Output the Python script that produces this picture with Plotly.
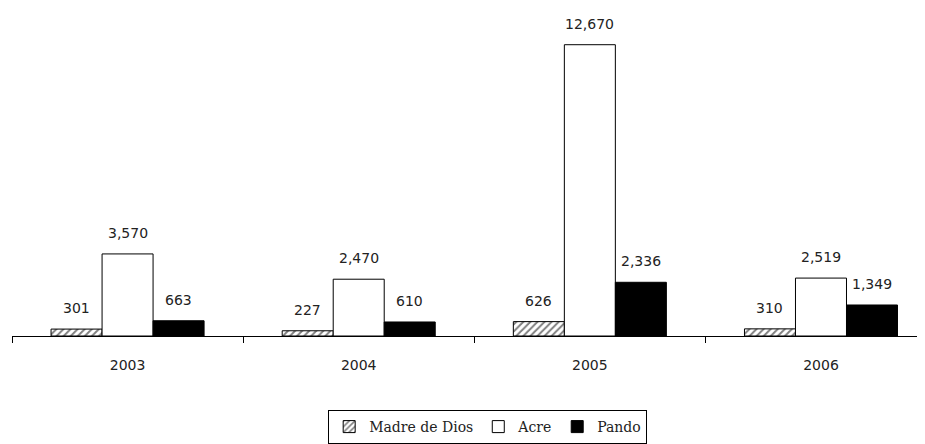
import plotly.graph_objects as go

years = ["2003", "2004", "2005", "2006"]
madre_de_dios = [301, 227, 626, 310]
acre = [3570, 2470, 12670, 2519]
pando = [663, 610, 2336, 1349]

series_names = ["Madre de Dios", "Acre", "Pando"]
series_values = [madre_de_dios, acre, pando]

BARGAP = 0.338
bar_w = (1 - BARGAP) / 3

fig = go.Figure()
fig.add_trace(go.Bar(
    name=series_names[0], x=years, y=madre_de_dios,
    marker=dict(color="white", line=dict(color="black", width=1),
                pattern=dict(shape="/", fgcolor="black", bgcolor="white", size=5, solidity=0.4)),
))
fig.add_trace(go.Bar(
    name=series_names[1], x=years, y=acre,
    marker=dict(color="white", line=dict(color="black", width=1)),
))
fig.add_trace(go.Bar(
    name=series_names[2], x=years, y=pando,
    marker=dict(color="black", line=dict(color="black", width=1)),
))

annotations = []
for j, vals in enumerate(series_values):
    for i, v in enumerate(vals):
        annotations.append(dict(
            x=i + (j - 1) * bar_w, y=v, xref="x", yref="y",
            text=f"{v:,}", showarrow=False, yanchor="bottom", yshift=11,
            font=dict(family="DejaVu Sans", size=14, color="#222"),
        ))

fig.update_layout(
    width=917, height=436,
    margin=dict(l=4, r=0, t=12, b=104),
    paper_bgcolor="white", plot_bgcolor="white",
    barmode="group", bargap=BARGAP, bargroupgap=0,
    annotations=annotations,
    showlegend=True,
    legend=dict(
        orientation="h", x=0.521, xanchor="center", y=-0.236, yanchor="top",
        bordercolor="black", borderwidth=1,
        font=dict(family="DejaVu Serif", size=14, color="#222"),
        itemwidth=30, traceorder="normal",
    ),
    xaxis=dict(
        type="category", range=[-0.5, 3.45],
        showline=True, linecolor="black", linewidth=1,
        ticks="outside", ticklen=6, tickcolor="black", tickson="boundaries",
        ticklabelstandoff=16,
        tickfont=dict(family="DejaVu Sans", size=14, color="#222"),
        showgrid=False, zeroline=False,
    ),
    yaxis=dict(
        range=[0, 13745], visible=False, showgrid=False, zeroline=False,
    ),
)

fig.write_html("out.html")
